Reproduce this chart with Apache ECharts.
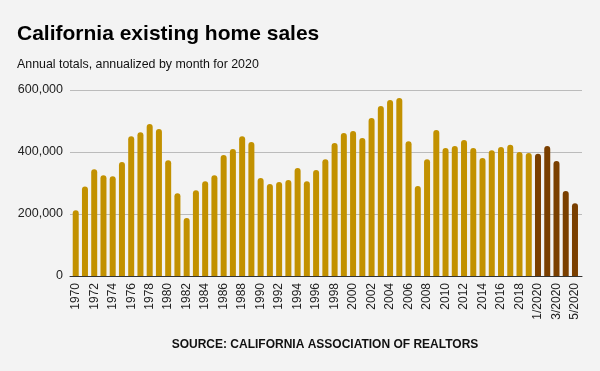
<!DOCTYPE html>
<html><head><meta charset="utf-8">
<script src="https://cdn.jsdelivr.net/npm/echarts@6/dist/echarts.min.js"></script>
<style>html,body{margin:0;padding:0;background:#f3f3f3}#c{width:600px;height:371px}</style>
</head><body><div id="c"></div>
<script>
const years = [1970,1971,1972,1973,1974,1975,1976,1977,1978,1979,1980,1981,1982,1983,1984,1985,1986,1987,1988,1989,1990,1991,1992,1993,1994,1995,1996,1997,1998,1999,2000,2001,2002,2003,2004,2005,2006,2007,2008,2009,2010,2011,2012,2013,2014,2015,2016,2017,2018,2019].map(String);
const months2020 = ['1/2020','2/2020','3/2020','4/2020','5/2020'];
const annualSales = [212000,289000,344000,325000,322000,368000,451000,464000,490000,474000,373000,267000,187000,277000,306000,325000,390000,410000,451000,432000,316000,297000,303000,310000,348000,306000,342000,377000,429000,461000,468000,445000,510000,548000,568000,574000,435000,290000,377000,471000,413000,419000,439000,413000,381000,406000,416000,423000,400000,397000];
const monthlyAnnualized2020 = [394000,419000,371000,274000,235000];
const yTicks = [0,200000,400000,600000];

const categories = years.concat(months2020);
const values = annualSales.concat(monthlyAnnualized2020);
const GOLD = '#c29100', BROWN = '#7a3f00';
const FF = 'Liberation Sans, Arial, sans-serif';

const chart = echarts.init(document.getElementById('c'));
const fmt = v => v.toLocaleString('en-US');
chart.setOption({
  backgroundColor: '#f3f3f3',
  animation: false,
  textStyle: {fontFamily: FF},
  title: [
    {text: 'California existing home sales', left: 12, top: 18.5,
     textStyle: {fontSize: 21, fontWeight: 'bold', color: '#000', fontFamily: FF}},
    {text: 'Annual totals, annualized by month for 2020', left: 12, top: 54,
     textStyle: {fontSize: 12.4, fontWeight: 'normal', color: '#111', fontFamily: FF}},
    {text: 'SOURCE: CALIFORNIA ASSOCIATION OF REALTORS', left: 320, textAlign: 'center', top: 333.5,
     textStyle: {fontSize: 12, fontWeight: 'bold', color: '#111', fontFamily: FF}}
  ],
  grid: [
    {left: 71.1, right: 20.4, top: 90, height: 186, containLabel: false},
    {left: 70, right: 18, top: 90, height: 186, containLabel: false}
  ],
  xAxis: [
    {type: 'category', gridIndex: 0, data: categories, boundaryGap: true,
     axisLine: {show: false}, axisTick: {show: false},
     axisLabel: {interval: 1, rotate: 90, fontSize: 12, color: '#222', margin: 7}},
    {type: 'value', gridIndex: 1, min: 0, max: 1, show: true,
     axisLine: {show: true, onZero: false, lineStyle: {color: '#333', width: 1}},
     axisTick: {show: false}, axisLabel: {show: false}, splitLine: {show: false}}
  ],
  yAxis: [
    {type: 'value', gridIndex: 0, min: 0, max: 600000, interval: 200000, show: false, splitLine: {show: false}},
    {type: 'value', gridIndex: 1, min: yTicks[0], max: yTicks[yTicks.length-1], interval: yTicks[1]-yTicks[0],
     axisLine: {show: false}, axisTick: {show: false},
     axisLabel: {fontSize: 12.5, color: '#222', margin: 7, formatter: fmt},
     splitLine: {lineStyle: {color: '#bbb', width: 1}}}
  ],
  series: [{
    type: 'bar', xAxisIndex: 0, yAxisIndex: 0, data: values, barWidth: 6,
    itemStyle: {borderRadius: [3,3,0,0],
      color: p => categories[p.dataIndex].indexOf('/') >= 0 ? BROWN : GOLD}
  }]
});
</script></body></html>
